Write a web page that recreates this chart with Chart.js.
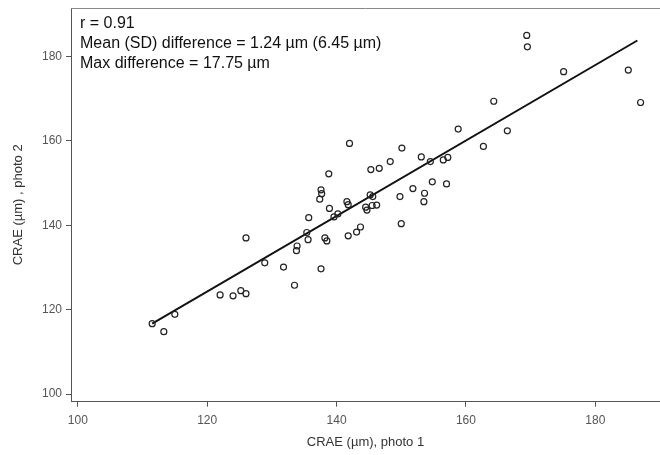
<!DOCTYPE html>
<html>
<head>
<meta charset="utf-8">
<script src="https://cdn.jsdelivr.net/npm/chart.js@4"></script>
<style>
  html, body { margin: 0; padding: 0; background: #fff; }
  #wrap { width: 660px; height: 455px; }
</style>
</head>
<body>
<div id="wrap"><canvas id="chart"></canvas></div>
<script>
// CRAE photo 1 (x) vs photo 2 (y)
const photo1 = [111.5, 113.3, 115.0, 122.0, 124.0, 125.2, 126.0, 126.0, 142.0, 150.1,
                153.1, 154.5, 156.5, 157.2, 158.8, 148.3, 145.3, 146.6, 138.8, 154.8,
                157.0, 151.8, 153.6, 153.5, 149.8, 137.6, 137.7, 137.4, 138.9, 141.6,
                141.8, 145.2, 145.6, 144.5, 144.7, 145.5, 146.2, 139.6, 140.2, 135.7,
                150.0, 135.4, 135.6, 138.2, 138.5, 141.8, 143.1, 143.7, 133.9, 133.8,
                128.9, 131.8, 137.6, 133.5, 169.4, 169.5, 175.1, 185.1, 187.0, 164.3,
                166.4, 162.7];
const photo2 = [116.7, 114.8, 118.9, 123.5, 123.3, 124.5, 123.8, 137.0, 159.4, 158.3,
                156.2, 155.1, 155.5, 156.1, 162.8, 155.1, 153.2, 153.5, 152.2, 150.3,
                149.8, 148.7, 147.6, 145.6, 146.8, 148.4, 147.5, 146.2, 144.0, 145.6,
                144.9, 147.2, 146.8, 144.3, 143.6, 144.7, 144.8, 142.0, 142.7, 141.8,
                140.4, 138.3, 136.6, 137.0, 136.3, 137.5, 138.4, 139.6, 135.1, 134.0,
                131.1, 130.1, 129.7, 125.8, 185.0, 182.3, 176.4, 176.8, 169.1, 169.4,
                162.4, 158.7];

// fitted line end points
const fitX = [111.5, 186.5];
const fitY = [116.7, 183.8];

const tickValues = [100, 120, 140, 160, 180];
const statsText = [
    'r = 0.91',
    'Mean (SD) difference = 1.24 \u00b5m (6.45 \u00b5m)',
    'Max difference = 17.75 \u00b5m'
];

const FONT = '"Liberation Sans", Arial, sans-serif';

// draws the top frame line and the statistics text in the corner
const framePlugin = {
    id: 'frame',
    afterDraw(chart) {
        const ctx = chart.ctx;
        const a = chart.chartArea;
        ctx.save();
        ctx.strokeStyle = '#888';
        ctx.lineWidth = 1;
        ctx.beginPath();
        ctx.moveTo(a.left, a.top + 0.5);
        ctx.lineTo(chart.width, a.top + 0.5);
        ctx.stroke();

        ctx.fillStyle = '#111';
        ctx.font = '16px ' + FONT;
        ctx.textBaseline = 'middle';
        ctx.textAlign = 'left';
        statsText.forEach((t, i) => ctx.fillText(t, a.left + 9, a.top + 16 + i * 20));
        ctx.restore();
    }
};

const ctx = document.getElementById('chart').getContext('2d');
new Chart(ctx, {
    type: 'scatter',
    data: {
        datasets: [{
            label: 'photos',
            data: photo1.map((x, i) => ({ x: x, y: photo2[i] })),
            pointStyle: 'circle',
            pointRadius: 3,
            pointBorderWidth: 1.2,
            pointBorderColor: '#222',
            pointBackgroundColor: 'rgba(0,0,0,0)',
            showLine: false
        }, {
            type: 'line',
            label: 'fit',
            data: fitX.map((x, i) => ({ x: x, y: fitY[i] })),
            borderColor: '#111',
            borderWidth: 2,
            pointRadius: 0,
            fill: false
        }]
    },
    options: {
        responsive: true,
        maintainAspectRatio: false,
        animation: false,
        layout: { autoPadding: false, padding: { top: 8, right: 0, left: 0, bottom: 0 } },
        plugins: {
            legend: { display: false },
            tooltip: { enabled: false }
        },
        scales: {
            x: {
                type: 'linear',
                min: 98.95,
                max: 190,
                afterBuildTicks: s => { s.ticks = tickValues.map(v => ({ value: v })); },
                afterFit: s => { s.height = 53.3; s.paddingLeft = 0; s.paddingRight = 0; },
                grid: { drawOnChartArea: false, tickLength: 5, color: '#555' },
                border: { color: '#555', width: 1 },
                ticks: { color: '#555', padding: 7, font: { family: FONT, size: 12 } },
                title: {
                    display: true,
                    text: 'CRAE (\u00b5m), photo 1',
                    color: '#333',
                    font: { family: FONT, size: 13 },
                    padding: { top: 0, bottom: 5 }
                }
            },
            y: {
                type: 'linear',
                min: 98.2,
                max: 191.5,
                afterBuildTicks: s => { s.ticks = tickValues.map(v => ({ value: v })); },
                afterFit: s => { s.width = 71; s.paddingTop = 0; s.paddingBottom = 0; },
                grid: { drawOnChartArea: false, tickLength: 5, color: '#555' },
                border: { color: '#555', width: 1 },
                ticks: { color: '#555', padding: 4, font: { family: FONT, size: 12 } },
                title: {
                    display: true,
                    text: 'CRAE (\u00b5m) , photo 2',
                    color: '#333',
                    font: { family: FONT, size: 13 },
                    padding: { top: 11, bottom: 0 }
                }
            }
        }
    },
    plugins: [framePlugin]
});
</script>
</body>
</html>
